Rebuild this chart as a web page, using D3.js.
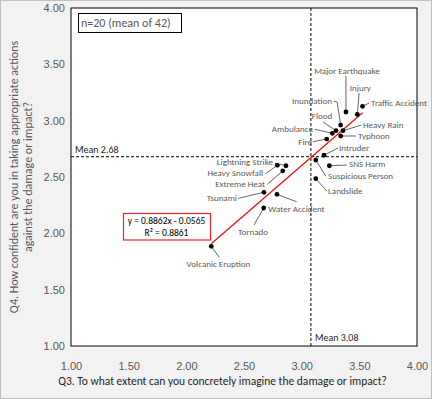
<!DOCTYPE html>
<html><head><meta charset="utf-8">
<script src="https://cdn.jsdelivr.net/npm/d3@7"></script>
<style>body{margin:0;background:#fff;} svg{display:block;font-family:Carlito,Lato,"Open Sans",sans-serif;}</style>
</head><body><svg id="c" width="432" height="399"></svg>
<script>
const names = ["Major Earthquake","Injury","Traffic Accident","Inundation","Flood","Ambulance","Heavy Rain","Typhoon","Fire","Intruder","Lightning Strike","Heavy Snowfall","Extreme Heat","SNS Harm","Suspicious Person","Landslide","Tsunami","Water Accident","Tornado","Volcanic Eruption"];
const q3 = [3.384,3.483,3.528,3.338,3.298,3.266,3.358,3.338,3.217,3.194,2.864,2.789,2.836,3.240,3.122,3.122,2.673,2.786,2.671,2.216];
const q4 = [3.077,3.055,3.127,2.961,2.911,2.888,2.911,2.864,2.837,2.693,2.600,2.604,2.555,2.600,2.651,2.485,2.364,2.346,2.225,1.885];
const xTicks = [1.00,1.50,2.00,2.50,3.00,3.50,4.00];
const yTicks = [1.00,1.50,2.00,2.50,3.00,3.50,4.00];
const meanX = 3.08, meanY = 2.68;
const slope = 0.8862, intercept = -0.0565, r2 = 0.8861;
const nText = "n=20 (mean of 42)";
const xTitle = "Q3. To what extent can you concretely imagine the damage or impact?";
const yTitle = ["Q4. How confident are you in taking appropriate actions","against the damage or impact?"];

// label layout (pixel offsets from each point): text offset, anchor, leader path
const labelLayout = [
 {t:[1,-41],a:"middle",l:[[0,-36]]},
 {t:[3,-26.5],a:"middle",l:[[1.7,-21.5]]},
 {t:[8.5,-3.3],a:"start",l:[[6.5,-3.3]]},
 {t:[-8.7,-24],a:"end",l:[[-6.7,-24],[-3.5,-23]]},
 {t:[-14,-14.7],a:"middle",l:[[-13,-8.7]]},
 {t:[-19.3,-4.3],a:"end",l:[[-17.3,-4]]},
 {t:[20,-5.7],a:"start",l:[[18.7,-5.7]]},
 {t:[17.3,0],a:"start",l:[[15.3,0]]},
 {t:[-14.7,3],a:"end",l:[[-13.7,2.7]]},
 {t:[15,-7.3],a:"start",l:[[14,-7.3]]},
 {t:[-13,-4.2],a:"end",l:[[-11,-2.5]]},
 {t:[-14.3,8],a:"end",l:[[-11.3,8]]},
 {t:[-17.7,13.5],a:"end",l:[[-15.4,13.5]]},
 {t:[19.7,-1.7],a:"start",l:[[17.4,-0.7]]},
 {t:[12.3,16],a:"start",l:[[10,16]]},
 {t:[12.3,12.3],a:"start",l:[[11,12.3]]},
 {t:[-27,6],a:"end",l:[[-25.7,6]]},
 {t:[19.5,14],a:"middle",l:[[19.7,7.4]]},
 {t:[-10.7,24],a:"middle",l:[[-9.7,17]]},
 {t:[7.2,18],a:"middle",l:[[8,11]]}
];

const W = 432, H = 399;
const svg = d3.select("#c");
svg.append("rect").attr("x",0.5).attr("y",0.5).attr("width",W-1).attr("height",H-1)
  .attr("fill","#f2f2f2").attr("stroke","#bfbfbf");

const x = d3.scaleLinear().domain([1,4]).range([71,417]);
const y = d3.scaleLinear().domain([1,4]).range([346,8]);

svg.append("rect").attr("x",x(1)).attr("y",y(4)).attr("width",x(4)-x(1)).attr("height",y(1)-y(4))
  .attr("fill","#fff").attr("stroke","#000").attr("stroke-width",1);

const fmt = d3.format(".2f");
const gx = svg.append("g").attr("transform",`translate(0,${y(1)})`)
  .call(d3.axisBottom(x).tickValues(xTicks).tickFormat(fmt).tickSize(0).tickPadding(16));
gx.select(".domain").remove();
gx.selectAll("text").attr("fill","#595959").style("font-size","11px").style("font-family","inherit");

const gy = svg.append("g").attr("transform",`translate(${x(1)},0)`)
  .call(d3.axisLeft(y).tickValues(yTicks).tickFormat(fmt).tickSize(0).tickPadding(6));
gy.select(".domain").remove();
gy.selectAll("text").attr("fill","#595959").style("font-size","11px").style("font-family","inherit");

// mean lines
svg.append("line").attr("x1",x(meanX)).attr("x2",x(meanX)).attr("y1",y(4)).attr("y2",y(1))
  .attr("stroke","#000").attr("stroke-dasharray","3,2");
svg.append("line").attr("x1",x(1)).attr("x2",x(4)).attr("y1",y(meanY)).attr("y2",y(meanY))
  .attr("stroke","#000").attr("stroke-dasharray","3,2");
svg.append("text").attr("x",x(1)+4).attr("y",y(meanY)-4).text("Mean " + meanY.toFixed(2))
  .attr("fill","#262626").style("font-size","10px");
svg.append("text").attr("x",x(meanX)+4).attr("y",y(1)-5).text("Mean " + meanX.toFixed(2))
  .attr("fill","#262626").style("font-size","10px");

// trendline
const xmin = d3.min(q3), xmax = d3.max(q3);
svg.append("line").attr("x1",x(xmin)).attr("y1",y(slope*xmin+intercept))
  .attr("x2",x(xmax)).attr("y2",y(slope*xmax+intercept))
  .attr("stroke","#ff0000").attr("stroke-width",1.1);

// leaders
const pts = names.map((n,i)=>({n, px:x(q3[i]), py:y(q4[i]), L:labelLayout[i]}));
const line = d3.line();
svg.append("g").selectAll("path").data(pts).join("path")
  .attr("d",d=>line(d.L.l.map(o=>[d.px+o[0],d.py+o[1]]).concat([[d.px,d.py]])))
  .attr("fill","none").attr("stroke","#404040").attr("stroke-width",0.8);
svg.append("g").selectAll("circle").data(pts).join("circle")
  .attr("cx",d=>d.px).attr("cy",d=>d.py).attr("r",2.4).attr("fill","#000");
svg.append("g").selectAll("text").data(pts).join("text")
  .attr("x",d=>d.px+d.L.t[0]).attr("y",d=>d.py+d.L.t[1]).attr("dy","0.35em")
  .attr("text-anchor",d=>d.L.a).attr("fill","#595959").style("font-size","9px").text(d=>d.n);

// equation box
svg.append("rect").attr("x",123.5).attr("y",213.5).attr("width",87).attr("height",26.5)
  .attr("fill","#fff").attr("stroke","#e8262a").attr("stroke-width",1.2);
svg.append("text").attr("x",166.5).attr("y",220.5).attr("dy","0.35em").attr("text-anchor","middle")
  .style("font-size","9.5px").attr("fill","#000")
  .text(`y = ${slope.toFixed(4)}x - ${Math.abs(intercept).toFixed(4)}`);
svg.append("text").attr("x",166.5).attr("y",233).attr("dy","0.35em").attr("text-anchor","middle")
  .style("font-size","9.5px").attr("fill","#000").text(`R² = ${r2.toFixed(4)}`);

// n box
svg.append("rect").attr("x",78.5).attr("y",13.5).attr("width",103).attr("height",19)
  .attr("fill","#fff").attr("stroke","#000");
svg.append("text").attr("x",81).attr("y",23).attr("dy","0.35em").style("font-size","12px")
  .attr("fill","#595959").text(nText);

// axis titles
svg.append("text").attr("x",222.5).attr("y",385).attr("text-anchor","middle")
  .style("font-size","11.5px").attr("fill","#262626").text(xTitle);
const yt = svg.append("text").attr("transform",`translate(18,${(y(1)+y(4))/2}) rotate(-90)`)
  .attr("text-anchor","middle").style("font-size","12px").attr("fill","#595959");
yTitle.forEach((t,i)=>yt.append("tspan").attr("x",0).attr("dy",i?"1.15em":"0").text(t));
</script></body></html>
